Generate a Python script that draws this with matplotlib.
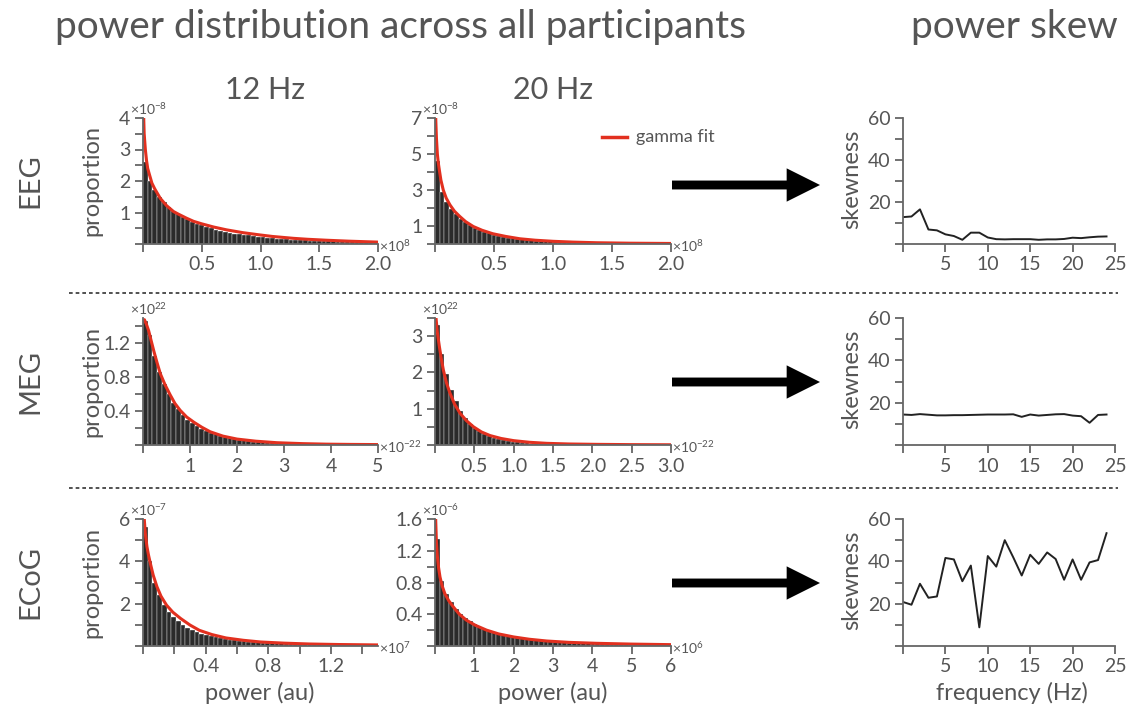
import matplotlib
matplotlib.use("Agg")
import matplotlib.pyplot as plt
import numpy as np
from matplotlib.patches import FancyArrowPatch
from matplotlib.lines import Line2D

plt.rcParams['font.family'] = ['Lato', 'DejaVu Sans']
plt.rcParams['mathtext.fontset'] = 'custom'
plt.rcParams['mathtext.rm'] = 'Lato'
plt.rcParams['mathtext.default'] = 'regular'

# ---------------- data ----------------
# EEG 12 Hz: power x1e8, proportion x1e-8
eeg12_width = 0.04
eeg12_bars = [2.6, 2.0, 1.72, 1.48, 1.32, 1.18, 1.05, 0.95, 0.86, 0.78,
              0.71, 0.65, 0.59, 0.54, 0.50, 0.46, 0.42, 0.39, 0.36, 0.33,
              0.31, 0.29, 0.27, 0.25, 0.23, 0.215, 0.20, 0.185, 0.17, 0.16,
              0.15, 0.14, 0.13, 0.12, 0.115, 0.11, 0.10, 0.095, 0.09, 0.085,
              0.08, 0.075, 0.07, 0.066, 0.062, 0.058, 0.055, 0.052, 0.05, 0.047]
eeg12_fit_x = [0.006, 0.01, 0.02, 0.03, 0.04, 0.055, 0.076, 0.1, 0.147, 0.2, 0.26, 0.3,
               0.37, 0.43, 0.5, 0.6, 0.71, 0.85, 0.99, 1.1, 1.28, 1.4, 1.56, 1.75, 2.0]
eeg12_fit_y = [4.0, 3.5, 3.0, 2.65, 2.4, 2.2, 1.93, 1.75, 1.45, 1.22, 1.03, 0.95,
               0.82, 0.72, 0.64, 0.54, 0.45, 0.36, 0.29, 0.24, 0.18, 0.15, 0.12, 0.09, 0.06]

# EEG 20 Hz
eeg20_width = 0.04
eeg20_bars = [4.6, 2.9, 2.35, 1.95, 1.65, 1.40, 1.20, 1.03, 0.89, 0.77,
              0.67, 0.59, 0.52, 0.46, 0.41, 0.36, 0.32, 0.29, 0.26, 0.23,
              0.21, 0.19, 0.17, 0.155, 0.14, 0.13, 0.12, 0.11, 0.10, 0.09,
              0.085, 0.078, 0.072, 0.066, 0.06, 0.056, 0.052, 0.048, 0.045, 0.042,
              0.039, 0.036, 0.034, 0.032, 0.03, 0.028, 0.026, 0.025, 0.023, 0.022]
eeg20_fit_x = [0.006, 0.012, 0.02, 0.028, 0.037, 0.05, 0.07, 0.095, 0.127, 0.165, 0.21,
               0.26, 0.325, 0.4, 0.49, 0.6, 0.72, 0.85, 1.0, 1.17, 1.37, 1.65, 2.0]
eeg20_fit_y = [7.0, 5.9, 5.0, 4.5, 4.1, 3.55, 3.0, 2.55, 2.17, 1.82, 1.53,
               1.24, 0.97, 0.76, 0.57, 0.42, 0.29, 0.21, 0.15, 0.105, 0.07, 0.045, 0.03]

# MEG 12 Hz: power x1e-22, proportion x1e22
meg12_width = 0.1
meg12_bars = [1.47, 1.30, 1.05, 0.86, 0.72, 0.60, 0.50, 0.42, 0.36, 0.30,
              0.26, 0.22, 0.19, 0.165, 0.145, 0.125, 0.108, 0.094, 0.082, 0.071,
              0.062, 0.054, 0.047, 0.041, 0.036, 0.031, 0.027, 0.024, 0.021, 0.018,
              0.016, 0.014, 0.012, 0.011, 0.0095, 0.0085, 0.0075, 0.0066, 0.0058, 0.0051,
              0.0045, 0.004, 0.0036, 0.0032, 0.0028, 0.0025, 0.0022, 0.002, 0.0018, 0.0016]
meg12_fit_x = [0.03, 0.07, 0.12, 0.17, 0.23, 0.3, 0.37, 0.47, 0.58, 0.68, 0.79, 0.93,
               1.08, 1.25, 1.43, 1.7, 2.0, 2.4, 2.85, 3.4, 3.9, 4.4, 5.0]
meg12_fit_y = [1.48, 1.43, 1.35, 1.24, 1.11, 0.97, 0.84, 0.71, 0.59, 0.49, 0.41, 0.33,
               0.27, 0.21, 0.156, 0.105, 0.07, 0.045, 0.027, 0.016, 0.01, 0.007, 0.005]

# MEG 20 Hz
meg20_width = 0.06
meg20_bars = [3.3, 2.5, 1.95, 1.52, 1.2, 0.95, 0.75, 0.59, 0.47, 0.38,
              0.30, 0.24, 0.195, 0.158, 0.128, 0.104, 0.085, 0.07, 0.058, 0.048,
              0.04, 0.033, 0.028, 0.024, 0.02, 0.017, 0.015, 0.013, 0.011, 0.0095,
              0.0083, 0.0072, 0.0063, 0.0055, 0.0048, 0.0042, 0.0037, 0.0033, 0.0029, 0.0026,
              0.0023, 0.002, 0.0018, 0.0016, 0.0014, 0.0013, 0.0011, 0.001, 0.0009, 0.0008]
meg20_fit_x = [0.013, 0.03, 0.055, 0.08, 0.106, 0.145, 0.19, 0.25, 0.32, 0.4, 0.49,
               0.59, 0.70, 0.84, 1.0, 1.2, 1.42, 1.7, 2.05, 2.5, 3.0]
meg20_fit_y = [3.5, 3.1, 2.72, 2.38, 2.07, 1.72, 1.43, 1.12, 0.87, 0.67, 0.5,
               0.36, 0.26, 0.18, 0.12, 0.075, 0.046, 0.028, 0.018, 0.01, 0.006]

# ECoG 12 Hz: power x1e7, proportion x1e-7
ecog12_width = 0.03
ecog12_bars = [5.6, 4.0, 3.0, 2.4, 1.95, 1.62, 1.37, 1.17, 1.0, 0.87,
               0.76, 0.67, 0.59, 0.52, 0.46, 0.41, 0.37, 0.33, 0.30, 0.27,
               0.245, 0.225, 0.205, 0.19, 0.175, 0.16, 0.15, 0.14, 0.13, 0.12,
               0.113, 0.106, 0.1, 0.094, 0.088, 0.083, 0.078, 0.074, 0.07, 0.066,
               0.063, 0.06, 0.057, 0.054, 0.052, 0.05, 0.048, 0.046, 0.044, 0.042]
ecog12_fit_x = [0.008, 0.015, 0.025, 0.035, 0.047, 0.065, 0.089, 0.115, 0.15, 0.19, 0.24,
                0.3, 0.36, 0.44, 0.53, 0.64, 0.75, 0.9, 1.06, 1.25, 1.5]
ecog12_fit_y = [6.0, 5.3, 4.7, 4.3, 3.9, 3.35, 2.8, 2.35, 1.93, 1.6, 1.3,
                0.99, 0.74, 0.54, 0.38, 0.27, 0.19, 0.135, 0.095, 0.07, 0.05]

# ECoG 20 Hz: power x1e6, proportion x1e-6
ecog20_width = 0.12
ecog20_bars = [1.35, 0.82, 0.66, 0.55, 0.47, 0.405, 0.355, 0.31, 0.275, 0.245,
               0.218, 0.195, 0.176, 0.159, 0.144, 0.131, 0.119, 0.108, 0.099, 0.09,
               0.083, 0.076, 0.07, 0.064, 0.059, 0.054, 0.05, 0.046, 0.043, 0.04,
               0.037, 0.034, 0.032, 0.03, 0.028, 0.026, 0.024, 0.022, 0.021, 0.02,
               0.019, 0.018, 0.017, 0.016, 0.015, 0.014, 0.013, 0.0125, 0.012, 0.0115]
ecog20_fit_x = [0.017, 0.035, 0.06, 0.09, 0.127, 0.18, 0.25, 0.35, 0.47, 0.62, 0.8,
                1.03, 1.31, 1.62, 2.0, 2.4, 2.84, 3.4, 4.1, 5.0, 6.0]
ecog20_fit_y = [1.6, 1.32, 1.13, 0.99, 0.87, 0.76, 0.66, 0.57, 0.49, 0.4, 0.325,
                0.26, 0.2, 0.152, 0.114, 0.085, 0.063, 0.046, 0.034, 0.024, 0.017]

# skewness vs frequency
freq = list(range(25))
skew_eeg = [12.8, 13.1, 16.5, 6.9, 6.5, 4.6, 3.8, 2.0, 5.4, 5.4, 3.1, 2.3, 2.2,
            2.3, 2.3, 2.3, 2.0, 2.2, 2.2, 2.4, 3.0, 2.8, 3.2, 3.5, 3.6]
skew_meg = [14.4, 14.2, 14.6, 14.3, 14.0, 14.0, 14.1, 14.1, 14.2, 14.3, 14.4, 14.4,
            14.4, 14.5, 13.3, 14.4, 13.9, 14.2, 14.5, 14.6, 13.9, 13.6, 10.5, 14.2, 14.4]
skew_ecog = [20.8, 19.5, 29.4, 22.8, 23.4, 41.6, 40.9, 30.6, 38.0, 8.8, 42.5, 37.5,
             50.0, 41.9, 33.3, 43.1, 38.8, 44.2, 41.1, 31.3, 40.9, 31.3, 39.5, 40.6, 53.3]

# ---------------- layout ----------------
W, H = 1129, 711
GREY = '#555555'
BAR = '#2b2b2b'
RED = '#e2301f'


def fx(px):
    return px / W


def fy(py):
    return 1 - py / H


col_left = [143, 435, 903]
col_right = [378, 671, 1115]
row_top = [118, 318, 519]
row_bot = [244, 445, 646]

fig = plt.figure(figsize=(W / 100, H / 100), dpi=100)


def make_ax(r, c):
    return fig.add_axes([fx(col_left[c]), fy(row_bot[r]),
                         (col_right[c] - col_left[c]) / W,
                         (row_bot[r] - row_top[r]) / H])


def style(ax):
    for s in ['top', 'right']:
        ax.spines[s].set_visible(False)
    for s in ['left', 'bottom']:
        ax.spines[s].set_color('#666666')
        ax.spines[s].set_linewidth(1.3)
    ax.tick_params(which='both', direction='out', length=6, width=1.3,
                   color='#666666', labelcolor=GREY, labelsize=14, pad=3)


def ticks(ax, axis, major, labels, minor):
    if axis == 'x':
        ax.set_xticks(major, labels)
        ax.set_xticks(minor, minor=True)
    else:
        ax.set_yticks(major, labels)
        ax.set_yticks(minor, minor=True)


def hist_panel(ax, bars, width, fit_x, fit_y, xlim, ylim, ymult, xmult):
    centers = (np.arange(len(bars)) + 0.5) * width
    ax.bar(centers, bars, width=width, color=BAR, edgecolor='white', linewidth=0.25)
    ax.plot(fit_x, fit_y, color=RED, lw=2.2, solid_capstyle='round',
            solid_joinstyle='round')
    ax.set_xlim(*xlim)
    ax.set_ylim(*ylim)
    style(ax)
    ax.annotate(ymult, xy=(0, 1), xycoords='axes fraction', xytext=(-9, 1),
                textcoords='offset points', ha='left', va='bottom', fontsize=10, color=GREY)
    ax.annotate(xmult, xy=(1, 0), xycoords='axes fraction', xytext=(1, 4),
                textcoords='offset points', ha='left', va='top', fontsize=10, color=GREY)


# row 1: EEG
ax = make_ax(0, 0)
hist_panel(ax, eeg12_bars, eeg12_width, eeg12_fit_x, eeg12_fit_y, (0, 2.0), (0, 4),
           r'$\times10^{-8}$', r'$\times10^{8}$')
ticks(ax, 'x', [0, 0.5, 1.0, 1.5, 2.0], ['', '0.5', '1.0', '1.5', '2.0'], [])
ticks(ax, 'y', [0, 1, 2, 3, 4], ['', '1', '2', '3', '4'], [0.5, 1.5, 2.5, 3.5])

ax = make_ax(0, 1)
hist_panel(ax, eeg20_bars, eeg20_width, eeg20_fit_x, eeg20_fit_y, (0, 2.0), (0, 7),
           r'$\times10^{-8}$', r'$\times10^{8}$')
ticks(ax, 'x', [0, 0.5, 1.0, 1.5, 2.0], ['', '0.5', '1.0', '1.5', '2.0'], [])
ticks(ax, 'y', [0, 1, 3, 5, 7], ['', '1', '3', '5', '7'], [2, 4, 6])

# row 2: MEG
ax = make_ax(1, 0)
hist_panel(ax, meg12_bars, meg12_width, meg12_fit_x, meg12_fit_y, (0, 5), (0, 1.5),
           r'$\times10^{22}$', r'$\times10^{-22}$')
ticks(ax, 'x', [0, 1, 2, 3, 4, 5], ['', '1', '2', '3', '4', '5'], [])
ticks(ax, 'y', [0, 0.4, 0.8, 1.2], ['', '0.4', '0.8', '1.2'], [0.2, 0.6, 1.0, 1.4])

ax = make_ax(1, 1)
hist_panel(ax, meg20_bars, meg20_width, meg20_fit_x, meg20_fit_y, (0, 3.0), (0, 3.5),
           r'$\times10^{22}$', r'$\times10^{-22}$')
ticks(ax, 'x', [0, 0.5, 1.0, 1.5, 2.0, 2.5, 3.0],
      ['', '0.5', '1.0', '1.5', '2.0', '2.5', '3.0'], [])
ticks(ax, 'y', [0, 1, 2, 3], ['', '1', '2', '3'], [0.5, 1.5, 2.5, 3.5])

# row 3: ECoG
ax = make_ax(2, 0)
hist_panel(ax, ecog12_bars, ecog12_width, ecog12_fit_x, ecog12_fit_y, (0, 1.5), (0, 6),
           r'$\times10^{-7}$', r'$\times10^{7}$')
ticks(ax, 'x', [0, 0.4, 0.8, 1.2], ['', '0.4', '0.8', '1.2'], [0.2, 0.6, 1.0, 1.4])
ticks(ax, 'y', [0, 2, 4, 6], ['', '2', '4', '6'], [1, 3, 5])

ax = make_ax(2, 1)
hist_panel(ax, ecog20_bars, ecog20_width, ecog20_fit_x, ecog20_fit_y, (0, 6), (0, 1.6),
           r'$\times10^{-6}$', r'$\times10^{6}$')
ticks(ax, 'x', [0, 1, 2, 3, 4, 5, 6], ['', '1', '2', '3', '4', '5', '6'], [])
ticks(ax, 'y', [0, 0.4, 0.8, 1.2, 1.6], ['', '0.4', '0.8', '1.2', '1.6'],
      [0.2, 0.6, 1.0, 1.4])

# skewness column
for r, skew in enumerate([skew_eeg, skew_meg, skew_ecog]):
    ax = make_ax(r, 2)
    ax.plot(freq, skew, color='#222222', lw=1.4)
    ax.set_xlim(0, 25)
    ax.set_ylim(0, 60)
    style(ax)
    ticks(ax, 'x', [0, 5, 10, 15, 20, 25], ['', '5', '10', '15', '20', '25'], [])
    ticks(ax, 'y', [0, 20, 40, 60], ['', '20', '40', '60'], [10, 30, 50])

# labels
fig.text(fx(55), fy(27), 'power distribution across all participants', fontsize=28,
         color=GREY, ha='left', va='center')
fig.text(fx(1118), fy(27), 'power skew', fontsize=28, color=GREY, ha='right', va='center')
fig.text(fx(265), fy(90), '12 Hz', fontsize=22, color=GREY, ha='center', va='center')
fig.text(fx(553), fy(90), '20 Hz', fontsize=22, color=GREY, ha='center', va='center')

for name, yc in zip(['EEG', 'MEG', 'ECoG'], [181, 381, 582]):
    fig.text(fx(30), fy(yc), name, fontsize=21, color=GREY, rotation=90,
             ha='center', va='center')

for r in range(3):
    yc = (row_top[r] + row_bot[r]) / 2
    fig.text(fx(92), fy(yc), 'proportion', fontsize=17, color=GREY, rotation=90,
             ha='center', va='center')
    fig.text(fx(852), fy(yc - 2), 'skewness', fontsize=17, color=GREY, rotation=90,
             ha='center', va='center')

fig.text(fx(260), fy(693), 'power (au)', fontsize=17, color=GREY, ha='center', va='center')
fig.text(fx(553), fy(693), 'power (au)', fontsize=17, color=GREY, ha='center', va='center')
fig.text(fx(1012), fy(693), 'frequency (Hz)', fontsize=17, color=GREY, ha='center', va='center')

# legend
fig.add_artist(Line2D([fx(602), fx(627)], [fy(137), fy(137)], color=RED, lw=2.5))
fig.text(fx(636), fy(137), 'gamma fit', fontsize=13, color=GREY, ha='left', va='center')

# dotted separators
for yy in [293, 488]:
    fig.add_artist(Line2D([fx(69), fx(1118)], [fy(yy), fy(yy)], color='#333333',
                          lw=1.2, linestyle=(0, (2.2, 1.8))))

# arrows
for yy in [185, 382, 583]:
    fig.add_artist(FancyArrowPatch((fx(672), fy(yy)), (fx(820), fy(yy)),
                                   transform=fig.transFigure,
                                   arrowstyle='simple,head_length=1.2,head_width=1.2,tail_width=0.32',
                                   mutation_scale=20, lw=0, color='black',
                                   shrinkA=0, shrinkB=0))

fig.savefig('out.png', dpi=100)
